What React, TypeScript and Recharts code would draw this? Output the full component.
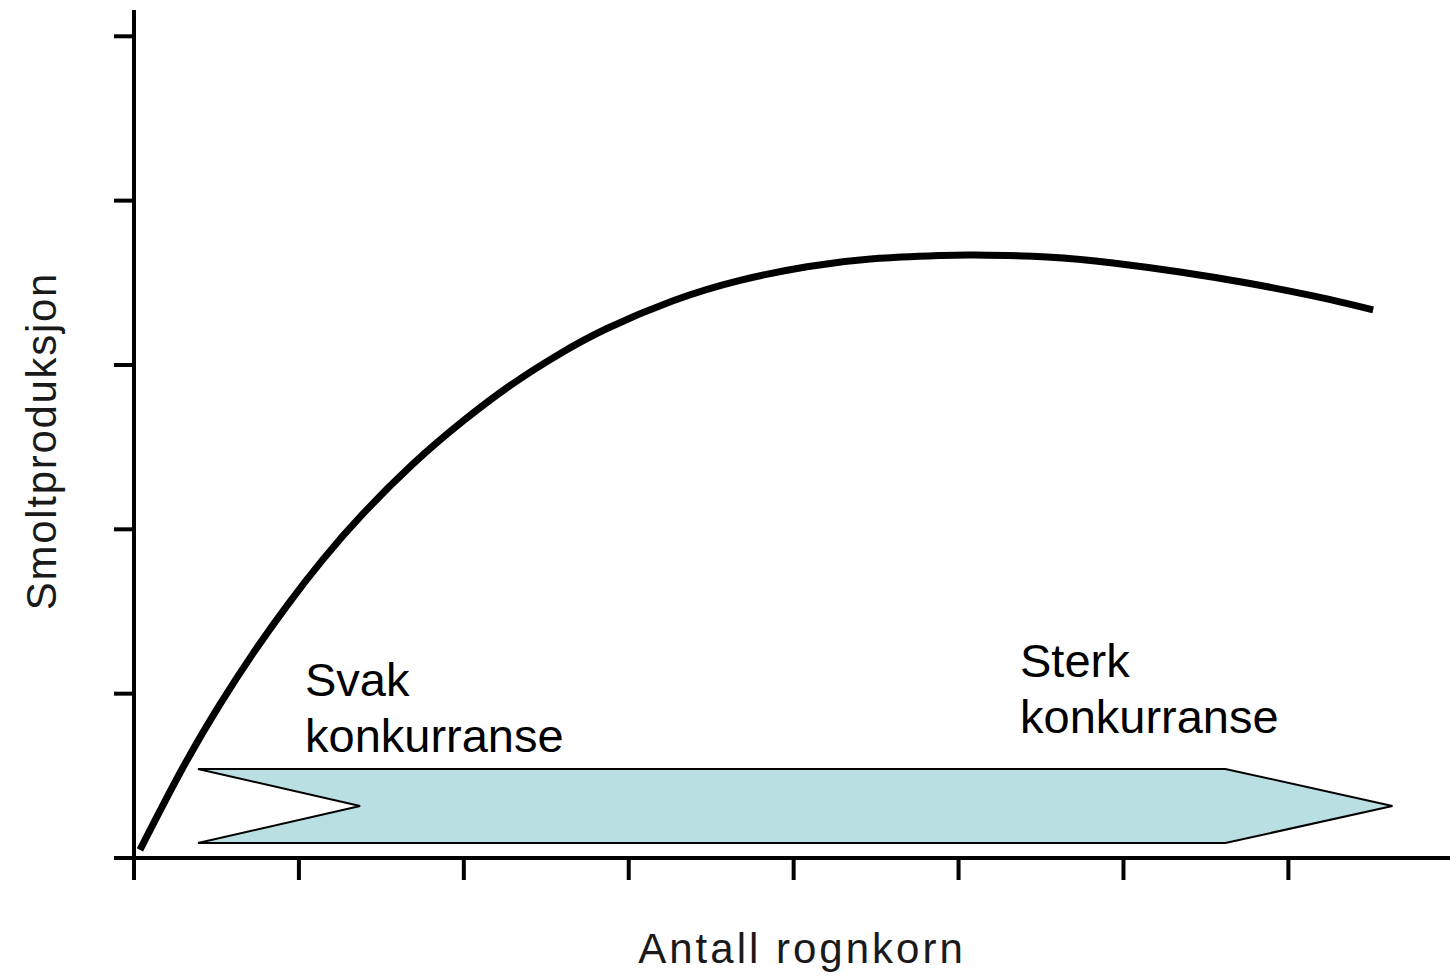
import React from 'react';
import { LineChart, Line, XAxis, YAxis, ReferenceArea } from 'recharts';

// --- Data ---

const curveX = [0.036, 0.291, 0.522, 0.722, 0.928, 1.146, 1.389, 1.692, 1.995, 2.298, 2.583, 2.868, 3.269, 3.675, 4.081, 4.482, 4.888, 5.1, 5.537, 5.937, 6.343, 6.75, 7.15, 7.514];
const curveY = [0.049, 0.54, 0.936, 1.245, 1.536, 1.817, 2.095, 2.398, 2.659, 2.887, 3.069, 3.222, 3.391, 3.515, 3.598, 3.646, 3.666, 3.669, 3.657, 3.621, 3.566, 3.499, 3.42, 3.335];

const xTicks = [0, 1, 2, 3, 4, 5, 6, 7];
const yTicks = [0, 1, 2, 3, 4, 5];

// arrow band in data units: tail, notch, head start, tip / bottom, middle, top
const arrowX = [0.388, 1.371, 6.618, 7.631];
const arrowY = [0.091, 0.317, 0.542];

const xTitle = 'Antall rognkorn';
const yTitle = 'Smoltproduksjon';
const weakLabel = ['Svak', 'konkurranse'];
const strongLabel = ['Sterk', 'konkurranse'];

const chartData = curveX.map((x, i) => ({ x, y: curveY[i] }));

const FONT = '"Liberation Sans", Arial, sans-serif';

// polygon drawn inside the rect recharts computes for the ReferenceArea
const ArrowShape = (props: any) => {
    const { x, y, width, height } = props;
    const x0 = arrowX[0];
    const spanX = arrowX[3] - arrowX[0];
    const y0 = arrowY[0];
    const spanY = arrowY[2] - arrowY[0];
    const px = (v: number) => x + ((v - x0) / spanX) * width;
    const py = (v: number) => y + height - ((v - y0) / spanY) * height;
    const pts = [
        [px(arrowX[0]), py(arrowY[2])],
        [px(arrowX[2]), py(arrowY[2])],
        [px(arrowX[3]), py(arrowY[1])],
        [px(arrowX[2]), py(arrowY[0])],
        [px(arrowX[0]), py(arrowY[0])],
        [px(arrowX[1]), py(arrowY[1])],
    ];
    return (
        <polygon
            points={pts.map(p => p.join(',')).join(' ')}
            fill="#badfe3"
            stroke="#000"
            strokeWidth={2}
            strokeLinejoin="miter"
        />
    );
};

const YTitle = (props: any) => {
    const vb = props.viewBox || {};
    const cx = vb.x + vb.width / 2 - 11;
    const cy = vb.y + vb.height / 2 + 7;
    return (
        <text
            x={cx}
            y={cy}
            transform={`rotate(-90, ${cx}, ${cy})`}
            textAnchor="middle"
            fontFamily={FONT}
            fontSize={42}
            letterSpacing={1.7}
            fill="#1a1a1a"
        >
            {yTitle}
        </text>
    );
};

const XTitle = (props: any) => {
    const vb = props.viewBox || {};
    return (
        <text
            x={vb.x + vb.width / 2 + 10}
            y={vb.y + 105}
            textAnchor="middle"
            fontFamily={FONT}
            fontSize={42}
            letterSpacing={3}
            fill="#1a1a1a"
        >
            {xTitle}
        </text>
    );
};

const NoLabel = () => <g />;

export default function App() {
    return (
        <div style={{ position: 'absolute', left: 0, top: 0, width: 1450, height: 976, background: '#fff' }}>
            <LineChart width={1450} height={976} data={chartData} margin={{ top: 10, right: 0, left: 0, bottom: 0 }}>
                <XAxis
                    dataKey="x"
                    type="number"
                    domain={[0, 7.98]}
                    ticks={xTicks}
                    tick={<NoLabel />}
                    tickSize={22}
                    height={118}
                    stroke="#000"
                    strokeWidth={4}
                    axisLine={{ stroke: '#000', strokeWidth: 4 }}
                    tickLine={{ stroke: '#000', strokeWidth: 4 }}
                    label={<XTitle />}
                />
                <YAxis
                    type="number"
                    domain={[0, 5.16]}
                    ticks={yTicks}
                    tick={<NoLabel />}
                    tickSize={20}
                    width={134}
                    stroke="#000"
                    strokeWidth={4}
                    axisLine={{ stroke: '#000', strokeWidth: 4 }}
                    tickLine={{ stroke: '#000', strokeWidth: 4 }}
                    label={<YTitle />}
                />
                <ReferenceArea
                    x1={arrowX[0]}
                    x2={arrowX[3]}
                    y1={arrowY[0]}
                    y2={arrowY[2]}
                    shape={<ArrowShape />}
                />
                <Line
                    type="natural"
                    dataKey="y"
                    stroke="#000"
                    strokeWidth={7}
                    dot={false}
                    activeDot={false}
                    isAnimationActive={false}
                />
            </LineChart>
            <svg
                width={1450}
                height={976}
                style={{ position: 'absolute', left: 0, top: 0, pointerEvents: 'none' }}
            >
                <g fontFamily={FONT} fontSize={47} fill="#000">
                    <text x={305} y={696}>{weakLabel[0]}</text>
                    <text x={305} y={752}>{weakLabel[1]}</text>
                    <text x={1020} y={677}>{strongLabel[0]}</text>
                    <text x={1020} y={733}>{strongLabel[1]}</text>
                </g>
            </svg>
        </div>
    );
}
